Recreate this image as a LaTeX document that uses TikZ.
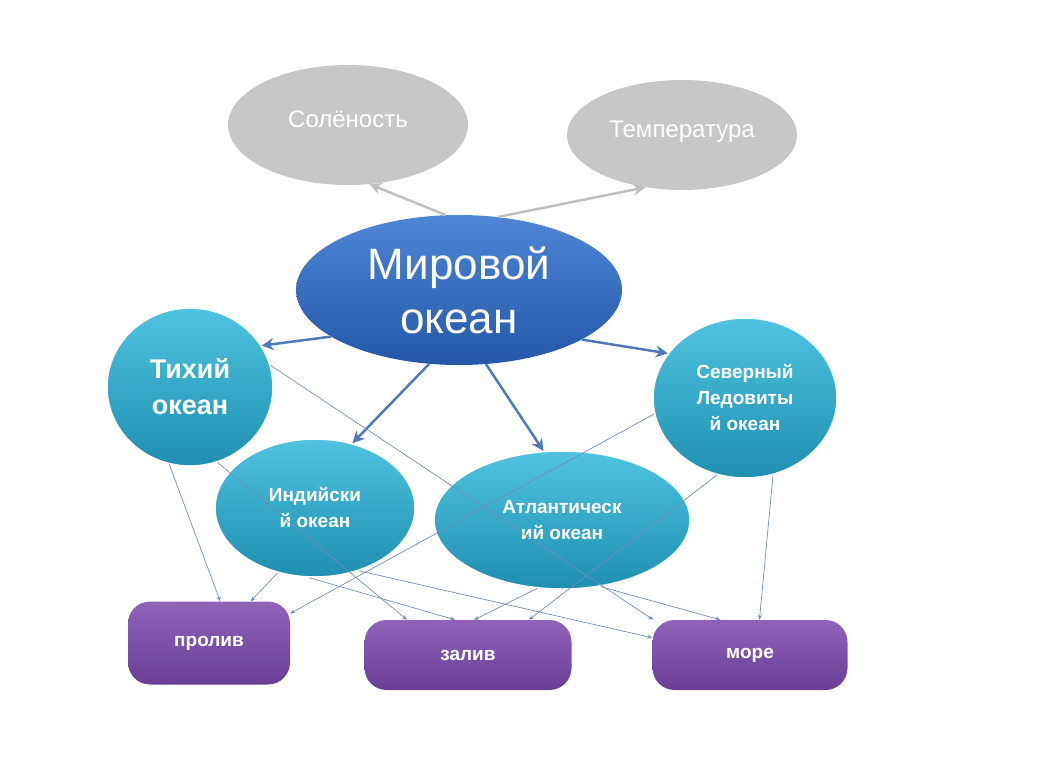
\documentclass[tikz,border=0pt]{standalone}
\usepackage{fontspec}
\setmainfont{Liberation Sans}
\usetikzlibrary{shapes.geometric,arrows.meta}
\definecolor{tealA}{HTML}{4FC3DF}
\definecolor{tealB}{HTML}{1E8FB0}
\definecolor{blueA}{HTML}{4F86D6}
\definecolor{blueB}{HTML}{2457A8}
\definecolor{purA}{HTML}{8E63B8}
\definecolor{purB}{HTML}{6A3E96}
\definecolor{lnk}{HTML}{6F8FB8}
\tikzset{
 x=1pt,y=-1pt,
 grayell/.style={ellipse,fill=black!22,text=white,font=\fontsize{24}{28}\selectfont,inner sep=0},
 ocean/.style={ellipse,top color=tealA,bottom color=tealB,draw=white,line width=1.5,text=white,font=\bfseries\fontsize{19}{26}\selectfont,align=center,inner sep=0},
 feat/.style={rounded corners=22,top color=purA,bottom color=purB,text=white,font=\bfseries\fontsize{19}{22}\selectfont,inner sep=0},
 bigarr/.style={-{Stealth[length=12,width=12]},line width=2.5,draw=blueB!80},
 grayarr/.style={-{Stealth[length=12,width=12]},line width=2.5,draw=black!25},
 thin/.style={-{Stealth[length=5,width=4]},line width=0.7,draw=lnk},
}
\begin{document}
\begin{tikzpicture}
\useasboundingbox (0,0) rectangle (1064,773);
\node[grayell,minimum width=240,minimum height=120] (sol) at (348,125) {\raisebox{12pt}{Солёность}};
\node[grayell,minimum width=230,minimum height=110] (tem) at (682,135) {\raisebox{12pt}{Температура}};
\node[ellipse,top color=blueA,bottom color=blueB,minimum width=326,minimum height=150,text=white,font=\fontsize{44}{54}\selectfont,align=center,inner sep=0] (mir) at (459,290) {Мировой\\океан};
\node[ocean,minimum width=166,minimum height=158,font=\bfseries\fontsize{27}{36}\selectfont] (tih) at (190,387) {Тихий\\океан};
\node[ocean,minimum width=200,minimum height=138] (ind) at (315,508) {Индийски\\й океан};
\node[ocean,minimum width=256,minimum height=138] (atl) at (562,520) {Атлантическ\\ий океан};
\node[ocean,minimum width=184,minimum height=160] (sev) at (745,398) {Северный\\Ледовиты\\й океан};
\node[feat,minimum width=162,minimum height=83] (pro) at (209,643) {пролив};
\node[feat,minimum width=207,minimum height=70] (zal) at (468,655) {залив};
\node[feat,minimum width=195,minimum height=70] (mor) at (750,655) {море};
\draw[grayarr] (mir.100) -- (sol.290);
\draw[grayarr] (mir.62) -- (tem.235);
\draw[bigarr] (mir.200) -- (tih.30);
\draw[bigarr] (mir.248) -- (ind.60);
\draw[bigarr] (mir.290) -- (atl.105);
\draw[bigarr] (mir.338) -- (sev.150);
\draw[thin] (tih.255) -- (pro.75);
\draw[thin] (tih.290) -- (zal.150);
\draw[thin] (tih.15) -- (mor.160);
\draw[thin] (ind.240) -- (pro.45);
\draw[thin] (ind.265) -- (zal.110);
\draw[thin] (ind.305) -- (mor.170);
\draw[thin] (sev.190) -- (pro.20);
\draw[thin] (sev.250) -- (zal.30);
\draw[thin] (sev.290) -- (mor.75);
\draw[thin] (atl.250) -- (zal.80);
\draw[thin] (atl.300) -- (mor.130);
\end{tikzpicture}
\end{document}
